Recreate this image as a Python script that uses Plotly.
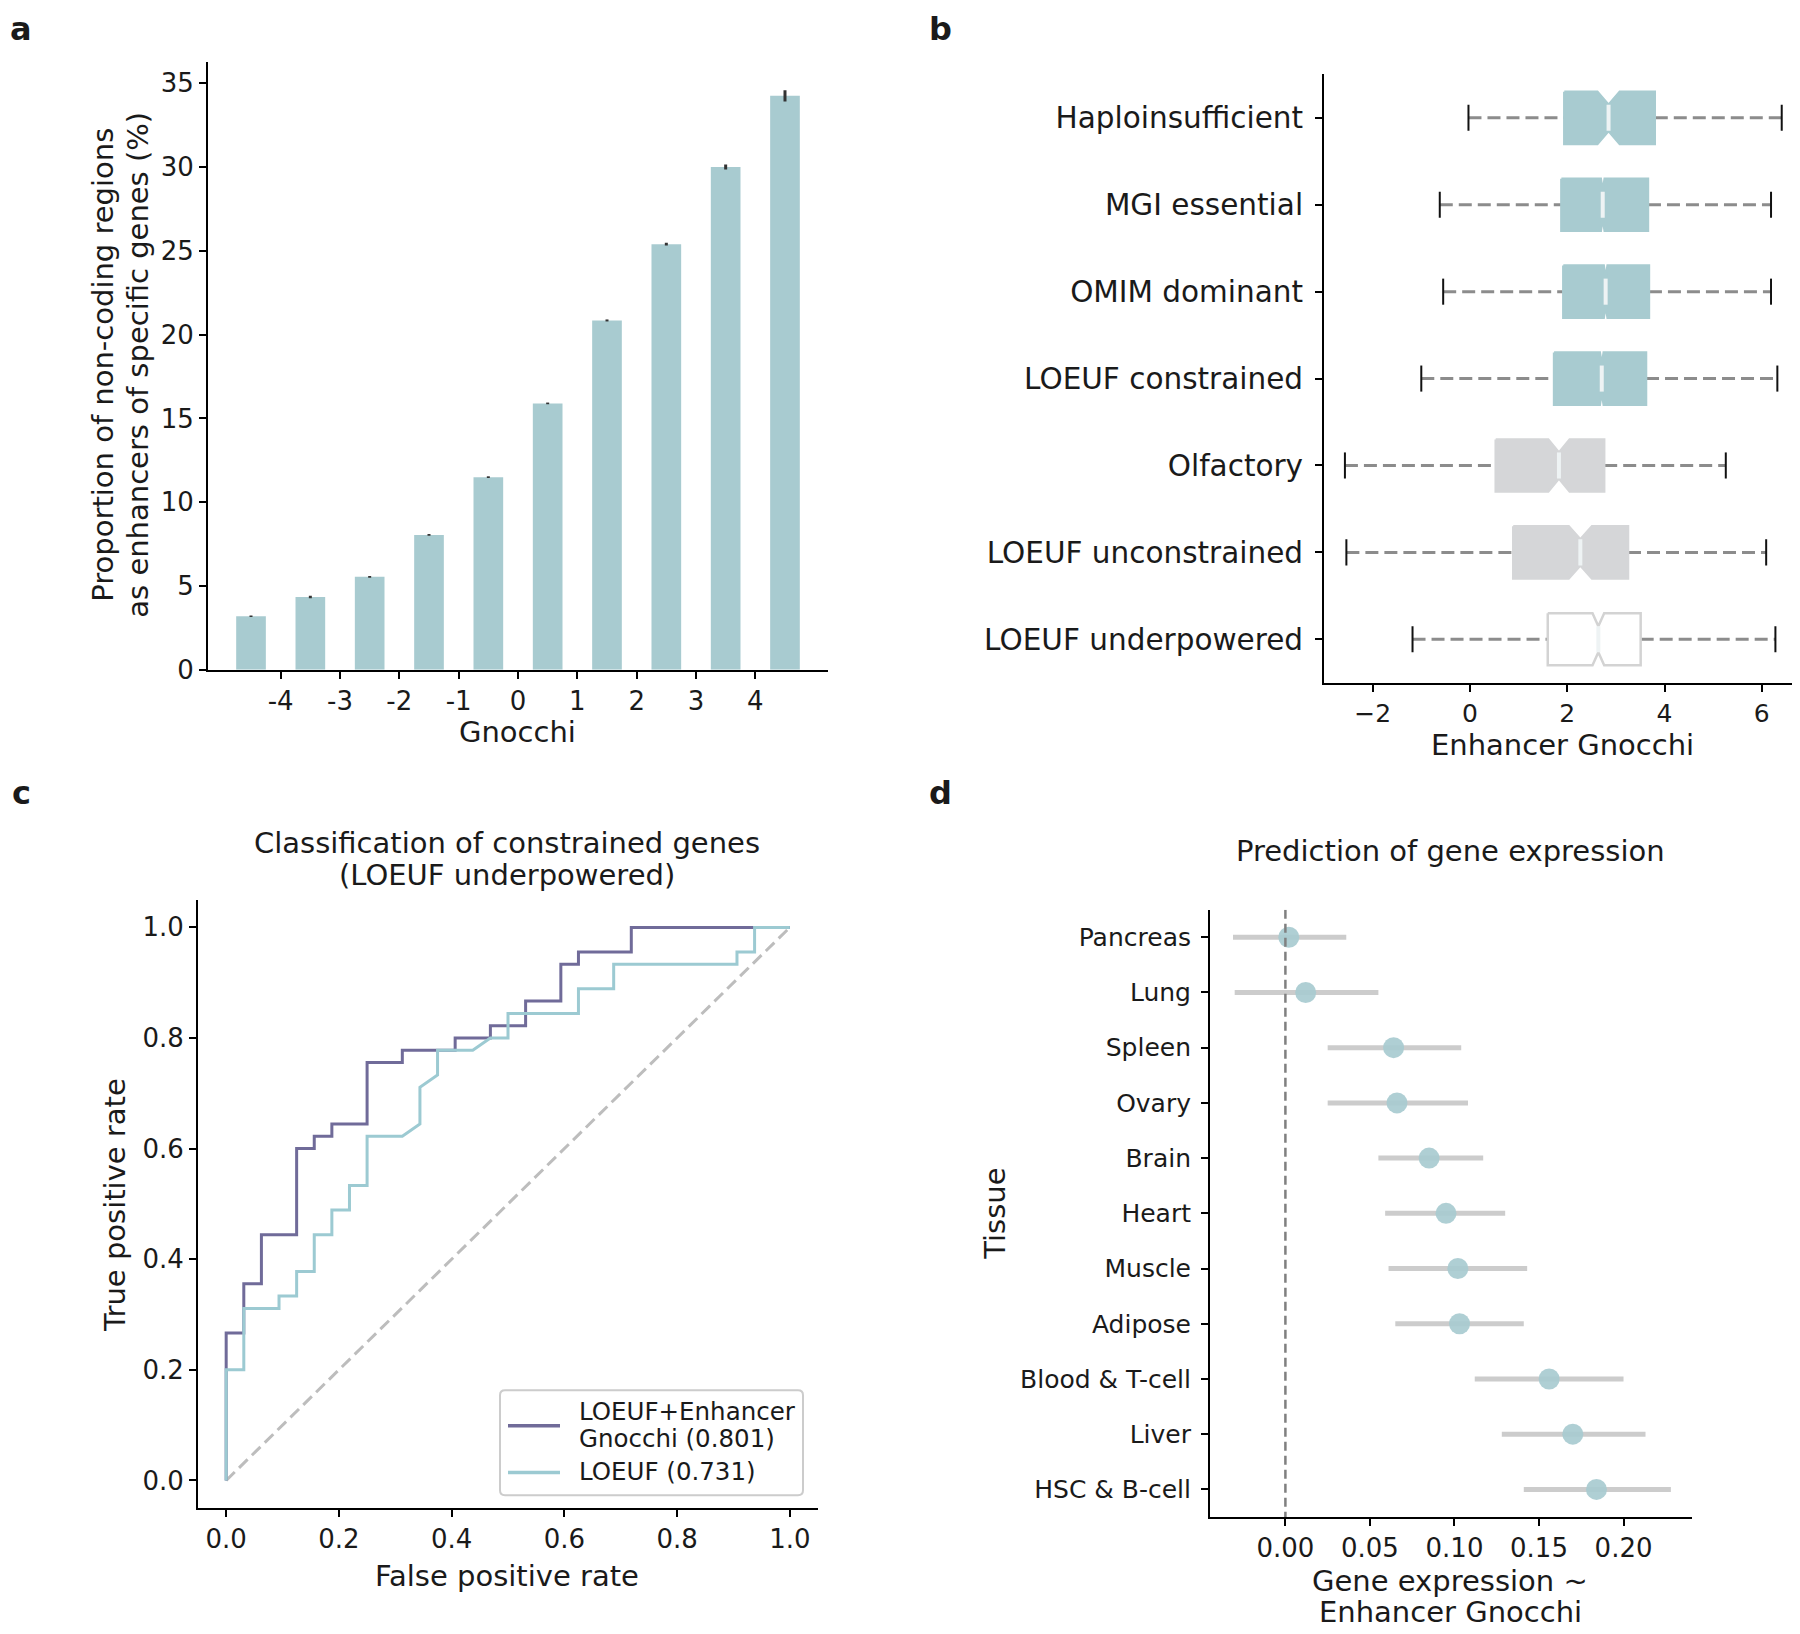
import plotly.graph_objects as go

# ---- panel a: enhancer proportion by Gnocchi bin
gnocchi_bins = [-4.5, -3.5, -2.5, -1.5, -0.5, 0.5, 1.5, 2.5, 3.5, 4.5]
enh_prop = [3.2, 4.35, 5.55, 8.05, 11.5, 15.9, 20.85, 25.4, 30.0, 34.25]
enh_err = [0.05, 0.07, 0.05, 0.05, 0.05, 0.05, 0.06, 0.08, 0.15, 0.33]
a_ticks = [-4, -3, -2, -1, 0, 1, 2, 3, 4]
a_ticklabels = ["-4", "-3", "-2", "-1", "0", "1", "2", "3", "4"]

# ---- panel b: enhancer Gnocchi by gene set
gene_sets = ["Haploinsufficient", "MGI essential", "OMIM dominant", "LOEUF constrained",
             "Olfactory", "LOEUF unconstrained", "LOEUF underpowered"]
wh_lo = [-0.03, -0.62, -0.55, -1.0, -2.57, -2.54, -1.18]
q1 = [1.94, 1.88, 1.92, 1.73, 0.53, 0.89, 1.6]
med = [2.85, 2.73, 2.79, 2.71, 1.83, 2.27, 2.64]
q3 = [3.8, 3.66, 3.68, 3.62, 2.76, 3.25, 3.51]
wh_hi = [6.41, 6.19, 6.19, 6.32, 5.26, 6.09, 6.28]
notch = [0.23, 0.04, 0.04, 0.04, 0.22, 0.24, 0.12]
box_fill = ["#a8cbd0", "#a8cbd0", "#a8cbd0", "#a8cbd0", "#d5d6d8", "#d5d6d8", "#ffffff"]
box_edge = ["#a8cbd0", "#a8cbd0", "#a8cbd0", "#a8cbd0", "#d5d6d8", "#d5d6d8", "#d3d3d3"]

# ---- panel c: ROC curves
fpr_comb = [0, 0, 0.03125, 0.03125, 0.0625, 0.0625, 0.125, 0.125, 0.15625, 0.15625, 0.1875, 0.1875,
            0.25, 0.25, 0.3125, 0.3125, 0.40625, 0.40625, 0.46875, 0.46875, 0.53125, 0.53125,
            0.59375, 0.59375, 0.625, 0.625, 0.71875, 0.71875, 1.0]
tpr_comb = [0, 0.2667, 0.2667, 0.3556, 0.3556, 0.4444, 0.4444, 0.6, 0.6, 0.6222, 0.6222, 0.6444,
            0.6444, 0.7556, 0.7556, 0.7778, 0.7778, 0.8, 0.8, 0.8222, 0.8222, 0.8667,
            0.8667, 0.9333, 0.9333, 0.9556, 0.9556, 1.0, 1.0]
fpr_loeuf = [0, 0, 0.03125, 0.03125, 0.09375, 0.09375, 0.125, 0.125, 0.15625, 0.15625, 0.1875, 0.1875,
             0.21875, 0.21875, 0.25, 0.25, 0.3125, 0.34375, 0.34375, 0.375, 0.375, 0.4375, 0.46875,
             0.5, 0.5, 0.625, 0.625, 0.6875, 0.6875, 0.90625, 0.90625, 0.9375, 0.9375, 1.0]
tpr_loeuf = [0, 0.2, 0.2, 0.3111, 0.3111, 0.3333, 0.3333, 0.3778, 0.3778, 0.4444, 0.4444, 0.4889,
             0.4889, 0.5333, 0.5333, 0.6222, 0.6222, 0.6444, 0.7111, 0.7333, 0.7778, 0.7778, 0.8,
             0.8, 0.8444, 0.8444, 0.8889, 0.8889, 0.9333, 0.9333, 0.9556, 0.9556, 1.0, 1.0]
roc_names = ["LOEUF+Enhancer Gnocchi", "LOEUF"]
roc_auc = [0.801, 0.731]
roc_colors = ["#706b99", "#9ccad2"]

# ---- panel d: gene expression prediction per tissue
tissues = ["Pancreas", "Lung", "Spleen", "Ovary", "Brain", "Heart", "Muscle", "Adipose",
           "Blood & T-cell", "Liver", "HSC & B-cell"]
beta = [0.002, 0.012, 0.064, 0.066, 0.085, 0.095, 0.102, 0.103, 0.156, 0.170, 0.184]
ci_lo = [-0.031, -0.030, 0.025, 0.025, 0.055, 0.059, 0.061, 0.065, 0.112, 0.128, 0.141]
ci_hi = [0.036, 0.055, 0.104, 0.108, 0.117, 0.130, 0.143, 0.141, 0.200, 0.213, 0.228]

TEAL = "#a8cbd0"
INK = "#1a1a1a"
FONT = "DejaVu Sans"
W, H = 1800, 1634


def px_x(v):
    return v / W


def px_y(v):
    return 1 - v / H


fig = go.Figure()

# panel a
fig.add_trace(go.Bar(x=gnocchi_bins, y=enh_prop, width=0.5, marker=dict(color=TEAL, line=dict(width=0)),
                     error_y=dict(type="data", array=enh_err, color="#333333", thickness=3, width=0),
                     xaxis="x", yaxis="y", showlegend=False))

# panel b: notched boxes drawn from the summary stats
bw = 0.6
for i, name in enumerate(gene_sets):
    nl, nh = med[i] - notch[i], med[i] + notch[i]
    xs = [q1[i], nl, med[i], nh, q3[i], q3[i], nh, med[i], nl, q1[i], q1[i]]
    ys = [i - bw / 2, i - bw / 2, i - bw / 4, i - bw / 2, i - bw / 2, i + bw / 2, i + bw / 2,
          i + bw / 4, i + bw / 2, i + bw / 2, i - bw / 2]
    fig.add_trace(go.Scatter(x=[wh_lo[i], q1[i], None, q3[i], wh_hi[i]], y=[i, i, None, i, i],
                             mode="lines", line=dict(color="#8c8c8c", width=3, dash="13px,6px"),
                             xaxis="x2", yaxis="y2", showlegend=False, hoverinfo="skip"))
    fig.add_trace(go.Scatter(x=xs, y=ys, mode="lines", fill="toself", fillcolor=box_fill[i],
                             line=dict(color=box_edge[i], width=2.5), xaxis="x2", yaxis="y2",
                             showlegend=False, name=name))
    fig.add_trace(go.Scatter(x=[med[i], med[i]], y=[i - bw / 4, i + bw / 4], mode="lines",
                             line=dict(color="#eef3f4", width=4), xaxis="x2", yaxis="y2",
                             showlegend=False, hoverinfo="skip"))
    fig.add_trace(go.Scatter(x=[wh_lo[i], wh_lo[i], None, wh_hi[i], wh_hi[i]],
                             y=[i - 0.15, i + 0.15, None, i - 0.15, i + 0.15], mode="lines",
                             line=dict(color="#111111", width=2), xaxis="x2", yaxis="y2",
                             showlegend=False, hoverinfo="skip"))

# panel c
fig.add_trace(go.Scatter(x=[0, 1], y=[0, 1], mode="lines", line=dict(color="#bdbdbd", width=3, dash="12px,6px"),
                         xaxis="x3", yaxis="y3", showlegend=False, hoverinfo="skip"))
for fpr, tpr, name, auc, col in zip([fpr_comb, fpr_loeuf], [tpr_comb, tpr_loeuf], roc_names, roc_auc, roc_colors):
    fig.add_trace(go.Scatter(x=fpr, y=tpr, mode="lines", line=dict(color=col, width=3),
                             name=f"{name} ({auc:.3f})", xaxis="x3", yaxis="y3", showlegend=False))

# panel d
ci_x, ci_y = [], []
for i in range(len(tissues)):
    ci_x += [ci_lo[i], ci_hi[i], None]
    ci_y += [i, i, None]
fig.add_trace(go.Scatter(x=ci_x, y=ci_y, mode="lines", line=dict(color="#cccccc", width=5),
                         xaxis="x4", yaxis="y4", showlegend=False, hoverinfo="skip"))
fig.add_trace(go.Scatter(x=beta, y=list(range(len(tissues))), mode="markers",
                         marker=dict(color=TEAL, size=21, opacity=0.92, line=dict(width=0)),
                         text=tissues, xaxis="x4", yaxis="y4", showlegend=False))
fig.add_trace(go.Scatter(x=[0, 0], y=[-0.5, 10.5], mode="lines",
                         line=dict(color="#808080", width=2.5, dash="9px,5px"),
                         xaxis="x4", yaxis="y4", showlegend=False, hoverinfo="skip"))

axis_common = dict(showline=True, linecolor="black", linewidth=2, ticks="outside", ticklen=7,
                   tickwidth=2, tickcolor="black", showgrid=False, zeroline=False,
                   tickfont=dict(family=FONT, size=26, color=INK))

fig.update_layout(
    width=W, height=H,
    margin=dict(l=0, r=0, t=0, b=0),
    paper_bgcolor="white", plot_bgcolor="white",
    font=dict(family=FONT, size=24, color=INK),
    showlegend=False,
    xaxis=dict(axis_common, domain=[px_x(200), px_x(820)], range=[-5.225, 5.225],
               tickvals=a_ticks, ticktext=a_ticklabels, anchor="y"),
    yaxis=dict(axis_common, domain=[px_y(668), px_y(54)], range=[0, 36.3],
               tickvals=[0, 5, 10, 15, 20, 25, 30, 35], anchor="x"),
    xaxis2=dict(axis_common, domain=[px_x(1316), px_x(1800)], range=[-3.0, 6.95],
                tickvals=[-2, 0, 2, 4, 6], tickfont=dict(family=FONT, size=25, color=INK), anchor="y2"),
    yaxis2=dict(axis_common, domain=[px_y(681), px_y(67)], range=[6.5, -0.5],
                tickvals=list(range(len(gene_sets))), ticktext=gene_sets, ticklabelstandoff=6,
                tickfont=dict(family=FONT, size=29.5, color=INK), anchor="x2"),
    xaxis3=dict(axis_common, domain=[px_x(190), px_x(810)], range=[-0.05, 1.05],
                tickvals=[0, 0.2, 0.4, 0.6, 0.8, 1.0], tickformat=".1f", anchor="y3"),
    yaxis3=dict(axis_common, domain=[px_y(1514), px_y(900)], range=[-0.05, 1.05],
                tickvals=[0, 0.2, 0.4, 0.6, 0.8, 1.0], tickformat=".1f", anchor="x3"),
    xaxis4=dict(axis_common, domain=[px_x(1202), px_x(1684)], range=[-0.0446, 0.2405],
                tickvals=[0, 0.05, 0.1, 0.15, 0.2], tickformat=".2f", anchor="y4"),
    yaxis4=dict(axis_common, domain=[px_y(1523), px_y(910)], range=[10.5, -0.5],
                tickvals=list(range(len(tissues))), ticktext=tissues, ticklabelstandoff=5,
                tickfont=dict(family=FONT, size=25, color=INK), anchor="x4"),
)

# hand-drawn legend for panel c (rounded frame, long line samples)
lx0, lx1, ly0, ly1, r = 492, 795, 1395, 1501, 5
frame = (f"M {px_x(lx0 + r)},{px_y(ly0)} L {px_x(lx1 - r)},{px_y(ly0)} "
         f"Q {px_x(lx1)},{px_y(ly0)} {px_x(lx1)},{px_y(ly0 + r)} L {px_x(lx1)},{px_y(ly1 - r)} "
         f"Q {px_x(lx1)},{px_y(ly1)} {px_x(lx1 - r)},{px_y(ly1)} L {px_x(lx0 + r)},{px_y(ly1)} "
         f"Q {px_x(lx0)},{px_y(ly1)} {px_x(lx0)},{px_y(ly1 - r)} L {px_x(lx0)},{px_y(ly0 + r)} "
         f"Q {px_x(lx0)},{px_y(ly0)} {px_x(lx0 + r)},{px_y(ly0)} Z")
fig.add_shape(type="path", path=frame, xref="paper", yref="paper",
              line=dict(color="#cccccc", width=2), fillcolor="rgba(255,255,255,0.8)")
legend_rows = [(1431, [1416, 1444]), (1478, [1477])]
legend_text = [["LOEUF+Enhancer", "Gnocchi (%.3f)" % roc_auc[0]], ["LOEUF (%.3f)" % roc_auc[1]]]
for (ly, text_ys), lines, col in zip(legend_rows, legend_text, roc_colors):
    fig.add_shape(type="line", xref="paper", yref="paper", x0=px_x(500), x1=px_x(552),
                  y0=px_y(ly), y1=px_y(ly), line=dict(color=col, width=3.5))
    for ty, t in zip(text_ys, lines):
        fig.add_annotation(text=t, x=px_x(569), y=px_y(ty), xref="paper", yref="paper",
                           xanchor="left", yanchor="middle", showarrow=False,
                           font=dict(family=FONT, size=24.5, color=INK))

TITLE = 29
ann = [
    ("<b>a</b>", 13, 21, 32, 0),
    ("<b>b</b>", 932, 21, 32, 0),
    ("<b>c</b>", 13, 792, 32, 0),
    ("<b>d</b>", 932, 792, 32, 0),
    ("Gnocchi", 509, 731, TITLE, 0),
    ("Proportion of non-coding regions", 95, 360, TITLE, -90),
    ("as enhancers of specific genes (%)", 130, 360, TITLE, -90),
    ("Enhancer Gnocchi", 1554, 744, TITLE, 0),
    ("Classification of constrained genes", 499, 843, TITLE, 0),
    ("(LOEUF underpowered)", 499, 875, TITLE, 0),
    ("True positive rate", 107, 1208, TITLE, -90),
    ("False positive rate", 499, 1583, TITLE, 0),
    ("Prediction of gene expression", 1442, 851, TITLE, 0),
    ("Tissue", 987, 1217, TITLE, -90),
    ("Gene expression ~", 1442, 1588, TITLE, 0),
    ("Enhancer Gnocchi", 1442, 1619, TITLE, 0),
]
for text, x, y, size, rot in ann:
    fig.add_annotation(text=text, x=px_x(x), y=px_y(y), xref="paper", yref="paper",
                       xanchor="center", yanchor="middle", showarrow=False, textangle=rot,
                       font=dict(family=FONT, size=size, color=INK))

fig.write_html("out.html")
